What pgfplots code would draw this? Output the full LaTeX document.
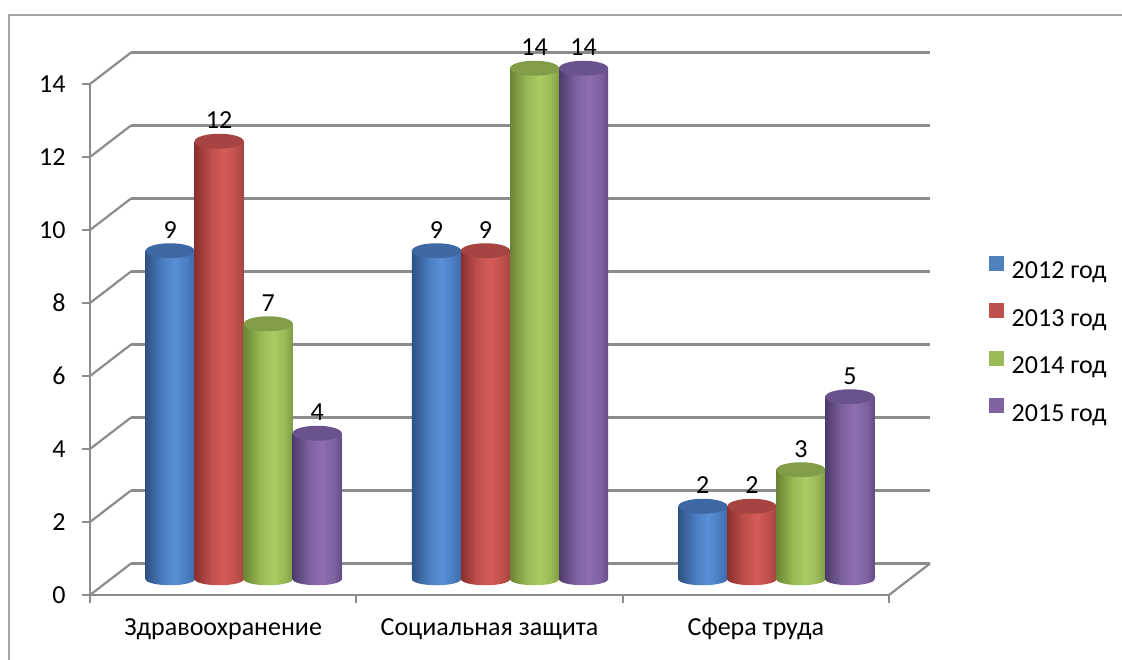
\documentclass[border=0pt]{standalone}
\usepackage{pgfplots}
\pgfplotsset{compat=1.18}
\usepackage{fontspec}
\setmainfont{Carlito}
\newcommand\cf{\fontsize{26pt}{30pt}\selectfont}
\definecolor{gridgray}{HTML}{8C8C8C}
\definecolor{framegray}{HTML}{A6A6A6}
% blue
\definecolor{bD1}{HTML}{2E5283}\definecolor{bMid}{HTML}{4A7CC0}\definecolor{bLight}{HTML}{5B90D6}\definecolor{bD2}{HTML}{3F6BA8}\definecolor{bCap}{HTML}{3D68A3}\definecolor{bLeg}{HTML}{4F81BD}
% red
\definecolor{rD1}{HTML}{8A2F2D}\definecolor{rMid}{HTML}{C0504D}\definecolor{rLight}{HTML}{D45B58}\definecolor{rD2}{HTML}{A64441}\definecolor{rCap}{HTML}{A64441}\definecolor{rLeg}{HTML}{C0504D}
% green
\definecolor{gD1}{HTML}{6A8534}\definecolor{gMid}{HTML}{98B955}\definecolor{gLight}{HTML}{A9CC63}\definecolor{gD2}{HTML}{7F9C45}\definecolor{gCap}{HTML}{819D48}\definecolor{gLeg}{HTML}{9BBB59}
% purple
\definecolor{pD1}{HTML}{4D3A6A}\definecolor{pMid}{HTML}{7E62A0}\definecolor{pLight}{HTML}{8D6EB0}\definecolor{pD2}{HTML}{634C85}\definecolor{pCap}{HTML}{6A528C}\definecolor{pLeg}{HTML}{8064A2}
\newcommand\cyl[2]{\pgfdeclarehorizontalshading{cyl#1}{100bp}{color(0bp)=(#2D1); color(25bp)=(#2D1); color(42bp)=(#2Mid); color(55bp)=(#2Light); color(67bp)=(#2Mid); color(75bp)=(#2D2); color(100bp)=(#2D2)}%
\pgfdeclareplotmark{cylbot#1}{\pgfpathellipse{\pgfpointorigin}{\pgfqpoint{24.5pt}{0pt}}{\pgfqpoint{0pt}{6pt}}\pgfshadepath{cyl#1}{0}\pgfusepath{discard}}}
\cyl{Blue}{b}\cyl{Red}{r}\cyl{Green}{g}\cyl{Purple}{p}
\pgfdeclareplotmark{cyltop}{\pgfpathellipse{\pgfpointorigin}{\pgfqpoint{24.5pt}{0pt}}{\pgfqpoint{0pt}{7.5pt}}\pgfusepathqfill}
\pgfplotsset{
  myax/.style={scale only axis, width=799pt, height=511pt, xmin=-0.5, xmax=2.5, ymin=0, ymax=14, anchor=south west, clip=false},
  cylbar/.style 2 args={ybar, bar width=49pt, bar shift=0pt, draw=none, shade, shading=cyl#1, mark=cyltop,
     mark options={fill=#2, draw=none},
     nodes near coords, every node near coord/.append style={font=\cf, anchor=center, yshift=21pt, text=black},
     /pgf/number format/assume math mode=true},
}
\begin{document}
\begin{tikzpicture}
\useasboundingbox (0,0) rectangle (1122pt,659pt);
\draw[framegray, line width=1.3pt] (9pt,-5pt) -- (9pt,644pt) -- (1135pt,644pt);
% back wall
\begin{axis}[myax, at={(131pt,95.5pt)}, axis line style={draw=none}, xtick=\empty, ytick={0,2,...,14}, yticklabels={},
  ytick style={draw=none}, ymajorgrids, grid style={gridgray, line width=2.4pt},
  legend style={draw=none, fill=none, at={(axis description cs:1.074,0.603)}, anchor=north west, inner sep=0pt,
    row sep=24.5pt, column sep=8pt, legend cell align=left, font=\cf, nodes={inner sep=0pt, text height=16pt, text depth=0pt}}]
\addlegendimage{legend image code/.code={\fill[bLeg] (0pt,0.8pt) rectangle (14pt,14.8pt);}}\addlegendentry{2012 год}
\addlegendimage{legend image code/.code={\fill[rLeg] (0pt,0.8pt) rectangle (14pt,14.8pt);}}\addlegendentry{2013 год}
\addlegendimage{legend image code/.code={\fill[gLeg] (0pt,0.8pt) rectangle (14pt,14.8pt);}}\addlegendentry{2014 год}
\addlegendimage{legend image code/.code={\fill[pLeg] (0pt,0.8pt) rectangle (14pt,14.8pt);}}\addlegendentry{2015 год}
\end{axis}
% front frame
\begin{axis}[myax, at={(90pt,64pt)}, axis x line*=bottom, axis y line*=left, axis line style={gridgray, line width=2.2pt, -},
  ytick={0,2,...,14}, tick align=outside, major tick length=8pt, ytick style={gridgray, line width=2pt},
  xtick={0,1,2}, xticklabels={Здравоохранение, Социальная защита, Сфера труда}, xtick style={draw=none},
  tick label style={font=\cf}, /pgf/number format/assume math mode=true,
  yticklabel style={xshift=-13pt}, xticklabel style={anchor=base, yshift=-32pt}]
\pgfplotsinvokeforeach{0,2,...,14}{\draw[gridgray, line width=2.2pt] (axis cs:-0.5,#1) -- ++(41pt,31.5pt);}
\draw[gridgray, line width=2.2pt] (axis cs:2.5,0) -- ++(41pt,31.5pt);
\pgfplotsinvokeforeach{-0.5,0.5,1.5,2.5}{\draw[gridgray, line width=2pt] (axis cs:#1,0) -- ++(0pt,-8pt);}
\end{axis}
% bars
\begin{axis}[myax, at={(110.5pt,79.75pt)}, hide axis]
\addplot[only marks, mark=cylbotBlue, forget plot] coordinates {(-0.276,0) (0.724,0) (1.724,0)};
\addplot[only marks, mark=cylbotRed, forget plot] coordinates {(-0.092,0) (0.908,0) (1.908,0)};
\addplot[only marks, mark=cylbotGreen, forget plot] coordinates {(0.092,0) (1.092,0) (2.092,0)};
\addplot[only marks, mark=cylbotPurple, forget plot] coordinates {(0.276,0) (1.276,0) (2.276,0)};
% Здравоохранение
\addplot[cylbar={Blue}{bCap}]   coordinates {(-0.276,9)};
\addplot[cylbar={Red}{rCap}]    coordinates {(-0.092,12)};
\addplot[cylbar={Green}{gCap}]  coordinates {(0.092,7)};
\addplot[cylbar={Purple}{pCap}] coordinates {(0.276,4)};
% Социальная защита
\addplot[cylbar={Blue}{bCap}]   coordinates {(0.724,9)};
\addplot[cylbar={Red}{rCap}]    coordinates {(0.908,9)};
\addplot[cylbar={Green}{gCap}]  coordinates {(1.092,14)};
\addplot[cylbar={Purple}{pCap}] coordinates {(1.276,14)};
% Сфера труда
\addplot[cylbar={Blue}{bCap}]   coordinates {(1.724,2)};
\addplot[cylbar={Red}{rCap}]    coordinates {(1.908,2)};
\addplot[cylbar={Green}{gCap}]  coordinates {(2.092,3)};
\addplot[cylbar={Purple}{pCap}] coordinates {(2.276,5)};
\end{axis}
\end{tikzpicture}
\end{document}
